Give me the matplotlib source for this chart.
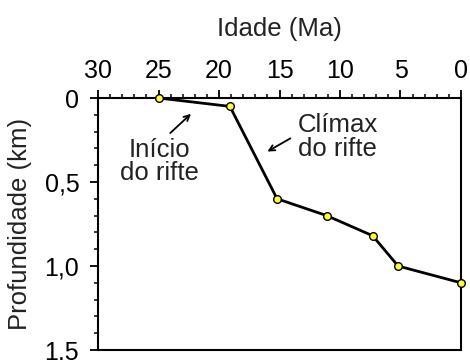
import matplotlib
matplotlib.use("Agg")
import matplotlib.pyplot as plt
from matplotlib.ticker import MultipleLocator

plt.rcParams['font.family'] = ['Liberation Sans', 'DejaVu Sans']

age = [25.0, 19.1, 15.2, 11.1, 7.3, 5.2, 0.0]
depth = [0.0, 0.05, 0.6, 0.70, 0.82, 1.0, 1.10]
xticks = [30, 25, 20, 15, 10, 5, 0]
yticks = [0, 0.5, 1.0, 1.5]
ytick_labels = ["0", "0,5", "1,0", "1,5"]

fig = plt.figure(figsize=(4.7, 3.6), dpi=100)
ax = fig.add_axes([98/470, 1-350/360, (461-98)/470, (350-98)/360])

ax.plot(age, depth, color='black', lw=2, zorder=3, clip_on=False)
ax.plot(age, depth, 'o', ms=5.5, mfc='#ffff33', mec='black', mew=1, zorder=4, clip_on=False)

ax.set_xlim(30, 0)
ax.set_ylim(1.5, 0)
ax.xaxis.tick_top()
ax.xaxis.set_label_position('top')
ax.set_xticks(xticks)
ax.set_xticklabels([str(v) for v in xticks])
ax.xaxis.set_minor_locator(MultipleLocator(1))
ax.set_yticks(yticks)
ax.set_yticklabels(ytick_labels)
ax.yaxis.set_minor_locator(MultipleLocator(0.1))

for s in ax.spines.values():
    s.set_linewidth(1.5)
ax.tick_params(which='major', length=5.5, width=1.3, labelsize=18, colors='black')
ax.tick_params(which='minor', length=3.2, width=1.1)
ax.tick_params(axis='x', which='major', pad=5)
ax.tick_params(axis='y', which='major', pad=8)

ax.set_xlabel('Idade (Ma)', fontsize=18.5, color='#222222', labelpad=17)
ax.set_ylabel('Profundidade (km)', fontsize=18.5, color='#222222', labelpad=9)

ax.text(24.9, 0.38, 'Início\ndo rifte', fontsize=18.5, ha='center', va='center',
        linespacing=0.95, color='#222222')
ax.text(10.2, 0.232, 'Clímax\ndo rifte', fontsize=18.5, ha='center', va='center',
        linespacing=0.95, color='#222222')
ax.annotate('', xy=(22.15, 0.083), xytext=(24.2, 0.22),
            arrowprops=dict(arrowstyle='->', color='black', lw=1.3))
ax.annotate('', xy=(16.2, 0.327), xytext=(13.9, 0.232),
            arrowprops=dict(arrowstyle='->', color='black', lw=1.3))

fig.savefig('out.png', dpi=100)
